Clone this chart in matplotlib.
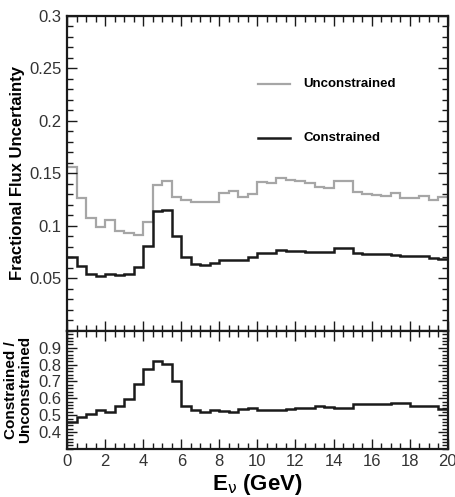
import numpy as np
import matplotlib
matplotlib.use("Agg")
import matplotlib.pyplot as plt
from matplotlib.ticker import MultipleLocator

plt.rcParams['font.family'] = ['Liberation Sans', 'DejaVu Sans']

# bin edges: 40 bins of 0.5 GeV from 0 to 20
edges = np.linspace(0, 20, 41)

unconstrained = [0.156, 0.127, 0.108, 0.099, 0.106, 0.095, 0.093, 0.091, 0.104, 0.139,
                 0.143, 0.128, 0.125, 0.1225, 0.1225, 0.123, 0.131, 0.133, 0.128, 0.130,
                 0.142, 0.1406, 0.146, 0.144, 0.1425, 0.141, 0.1374, 0.136, 0.143, 0.143,
                 0.1326, 0.130, 0.1298, 0.129, 0.131, 0.127, 0.127, 0.129, 0.125, 0.128]

constrained = [0.0709, 0.062, 0.0547, 0.0525, 0.054, 0.053, 0.0547, 0.0614, 0.081, 0.114,
               0.115, 0.090, 0.070, 0.064, 0.063, 0.0645, 0.068, 0.0677, 0.0674, 0.070,
               0.074, 0.074, 0.077, 0.0765, 0.0765, 0.0756, 0.075, 0.075, 0.0786, 0.0786,
               0.0744, 0.0735, 0.0733, 0.073, 0.072, 0.0715, 0.0715, 0.071, 0.0693, 0.0684]

ratio = [0.458, 0.486, 0.506, 0.531, 0.518, 0.557, 0.597, 0.684, 0.775, 0.820,
         0.806, 0.705, 0.557, 0.531, 0.521, 0.531, 0.527, 0.518, 0.535, 0.541,
         0.529, 0.531, 0.529, 0.535, 0.541, 0.545, 0.555, 0.551, 0.545, 0.545,
         0.567, 0.567, 0.567, 0.565, 0.571, 0.571, 0.557, 0.557, 0.555, 0.535]

fig = plt.figure(figsize=(4.56, 4.97), dpi=100)
ax1 = fig.add_axes([0.147, 0.334, 0.835, 0.634])
ax2 = fig.add_axes([0.147, 0.097, 0.835, 0.237])

ax1.stairs(unconstrained, edges, color='#a6a6a6', lw=1.6, baseline=None)
ax1.stairs(constrained, edges, color='#1a1a1a', lw=1.8, baseline=None)
ax2.stairs(ratio, edges, color='#1a1a1a', lw=1.8, baseline=None)

# legend drawn by hand like the original
ax1.plot([10.05, 11.7], [0.235, 0.235], color='#a6a6a6', lw=1.6)
ax1.text(12.4, 0.235, 'Unconstrained', fontsize=9.5, fontweight='bold', va='center')
ax1.plot([10.05, 11.7], [0.184, 0.184], color='#1a1a1a', lw=1.8)
ax1.text(12.4, 0.184, 'Constrained', fontsize=9.5, fontweight='bold', va='center')

ax1.set_xlim(0, 20)
ax1.set_ylim(0, 0.3)
ax1.set_yticks([0.05, 0.1, 0.15, 0.2, 0.25, 0.3])
ax1.set_yticklabels(['0.05', '0.1', '0.15', '0.2', '0.25', '0.3'])
ax1.yaxis.set_minor_locator(MultipleLocator(0.01))
ax1.xaxis.set_major_locator(MultipleLocator(2))
ax1.xaxis.set_minor_locator(MultipleLocator(0.5))
ax1.tick_params(labelbottom=False)
ax1.set_ylabel('Fractional Flux Uncertainty', fontsize=12, fontweight='bold')
ax1.yaxis.set_label_coords(-0.11, 0.5)

ax2.set_xlim(0, 20)
ax2.set_ylim(0.3, 1.0)
ax2.set_yticks([0.4, 0.5, 0.6, 0.7, 0.8, 0.9])
ax2.yaxis.set_minor_locator(MultipleLocator(0.02))
ax2.xaxis.set_major_locator(MultipleLocator(2))
ax2.xaxis.set_minor_locator(MultipleLocator(0.5))
ax2.set_ylabel('Constrained /\nUnconstrained', fontsize=11, fontweight='bold', linespacing=1.0)
ax2.yaxis.set_label_coords(-0.092, 0.5)
ax2.set_xlabel(r'E$_{\mathrm{\nu}}$ (GeV)', fontsize=16, fontweight='bold', labelpad=2)

for ax in (ax1, ax2):
    for sp in ax.spines.values():
        sp.set_linewidth(1.6)
        sp.set_color('#1a1a1a')
    ax.tick_params(which='both', direction='in', top=True, right=True,
                   color='#1a1a1a', labelsize=12, labelcolor='#333333')
    ax.tick_params(which='major', length=7, width=1.0, pad=4)
    ax.tick_params(which='minor', length=4, width=1.0)

fig.savefig('out.png', dpi=100)
